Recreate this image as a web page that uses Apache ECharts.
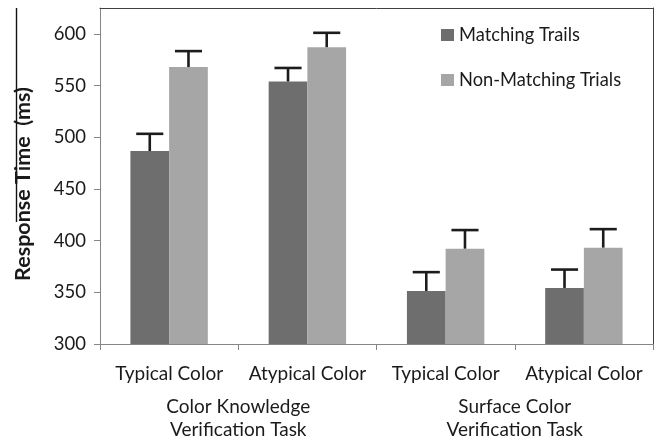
<!DOCTYPE html>
<html>
<head>
<meta charset="utf-8">
<script src="https://cdn.jsdelivr.net/npm/echarts@6/dist/echarts.min.js"></script>
<style>
  html, body { margin: 0; padding: 0; background: #fff; }
  #chart { width: 656px; height: 441px; }
</style>
</head>
<body>
<div id="chart"></div>
<script>
// Conditions along the x axis, and the two task groups beneath them
const categories = ['Typical Color', 'Atypical Color', 'Typical Color', 'Atypical Color'];
const taskGroups = ['Color Knowledge\nVerification Task', 'Surface Color\nVerification Task'];

// Mean response times (ms) and their error bar lengths
const matchingMeans = [486.7, 553.9, 351.3, 354.2];
const matchingErrors = [16.6, 13.1, 18.2, 17.8];
const nonMatchingMeans = [567.9, 587.1, 392.2, 393.2];
const nonMatchingErrors = [15.4, 13.9, 18.0, 17.9];

// Value axis ticks
const yTicks = [300, 350, 400, 450, 500, 550, 600];
const yMin = 300;
const yMax = 625;

const seriesNames = ['Matching Trails', 'Non-Matching Trials'];
const colors = ['#6e6e6e', '#a6a6a6'];
const FONT = 'Lato';
const CAT_GAP = 0.44;

const chart = echarts.init(document.getElementById('chart'), null, { renderer: 'canvas' });

// Error bar drawn above one bar of a pair (side -1 = left bar, +1 = right bar)
function errorBar(side) {
  return function (params, api) {
    const idx = api.value(0);
    const mean = api.value(1);
    const err = api.value(2);
    const base = api.coord([idx, mean]);
    const top = api.coord([idx, mean + err]);
    const band = api.size([1, 0])[0];
    const barW = band * (1 - CAT_GAP) / 2;
    const cx = base[0] + side * barW / 2;
    const capHalf = barW * 0.35;
    const style = { stroke: '#1c1c1c', lineWidth: 2.6 };
    return {
      type: 'group',
      children: [
        { type: 'line', shape: { x1: cx, y1: base[1], x2: cx, y2: top[1] }, style: style },
        { type: 'line', shape: { x1: cx - capHalf, y1: top[1], x2: cx + capHalf, y2: top[1] }, style: style }
      ]
    };
  };
}

function errorData(means, errs) {
  return means.map((m, i) => [i, m, errs[i]]);
}

const option = {
  animation: false,
  backgroundColor: '#ffffff',
  textStyle: { fontFamily: FONT },
  grid: { left: 100, right: 3, top: 8, bottom: 94, containLabel: false },
  legend: {
    orient: 'vertical',
    left: 436,
    top: 21,
    itemWidth: 13,
    itemHeight: 12,
    itemGap: 27,
    icon: 'rect',
    textStyle: { fontFamily: FONT, fontSize: 18.3, color: '#1a1a1a', padding: [0, 0, 0, 0] },
    data: seriesNames
  },
  xAxis: [
    {
      type: 'category',
      data: categories,
      position: 'bottom',
      axisLine: { show: true, lineStyle: { color: '#868686', width: 1 } },
      axisTick: { show: true, length: 6, lineStyle: { color: '#868686' } },
      axisLabel: { fontFamily: FONT, fontSize: 19, color: '#1a1a1a', margin: 20, interval: 0 }
    },
    {
      type: 'category',
      data: taskGroups,
      position: 'bottom',
      offset: 51,
      axisLine: { show: false },
      axisTick: { show: false },
      axisLabel: { fontFamily: FONT, fontSize: 19, color: '#1a1a1a', lineHeight: 23, margin: 0, interval: 0 }
    },
    {
      type: 'category',
      data: categories,
      position: 'top',
      axisLine: { show: true, lineStyle: { color: '#404040', width: 1 } },
      axisTick: { show: false },
      axisLabel: { show: false }
    }
  ],
  yAxis: [
    {
      type: 'value',
      min: yMin,
      max: yMax,
      interval: 50,
      name: 'Response Time  (ms)',
      nameLocation: 'middle',
      nameGap: 66,
      nameTextStyle: { fontFamily: FONT, fontSize: 21.5, fontWeight: 'bold', color: '#1a1a1a', padding: [0, 16, 0, 0] },
      splitLine: { show: false },
      axisLine: { show: true, lineStyle: { color: '#868686', width: 1 } },
      axisTick: { show: true, length: 6, customValues: yTicks, lineStyle: { color: '#868686' } },
      axisLabel: { fontFamily: FONT, fontSize: 18.5, color: '#1a1a1a', margin: 14, customValues: yTicks }
    },
    {
      type: 'value',
      min: yMin,
      max: yMax,
      position: 'right',
      splitLine: { show: false },
      axisLine: { show: true, lineStyle: { color: '#404040', width: 1 } },
      axisTick: { show: false },
      axisLabel: { show: false }
    }
  ],
  graphic: [
    { type: 'line', shape: { x1: 16.5, y1: 8, x2: 16.5, y2: 222 }, style: { stroke: '#111', lineWidth: 1.4 }, silent: true }
  ],
  series: [
    {
      name: seriesNames[0],
      type: 'bar',
      data: matchingMeans,
      barGap: '0%',
      barCategoryGap: (CAT_GAP * 100) + '%',
      itemStyle: { color: colors[0] },
      z: 2
    },
    {
      name: seriesNames[1],
      type: 'bar',
      data: nonMatchingMeans,
      barGap: '0%',
      barCategoryGap: (CAT_GAP * 100) + '%',
      itemStyle: { color: colors[1] },
      z: 2
    },
    {
      type: 'custom',
      renderItem: errorBar(-1),
      data: errorData(matchingMeans, matchingErrors),
      encode: { x: 0, y: 1 },
      z: 3,
      silent: true
    },
    {
      type: 'custom',
      renderItem: errorBar(1),
      data: errorData(nonMatchingMeans, nonMatchingErrors),
      encode: { x: 0, y: 1 },
      z: 3,
      silent: true
    }
  ]
};

chart.setOption(option);
</script>
</body>
</html>
